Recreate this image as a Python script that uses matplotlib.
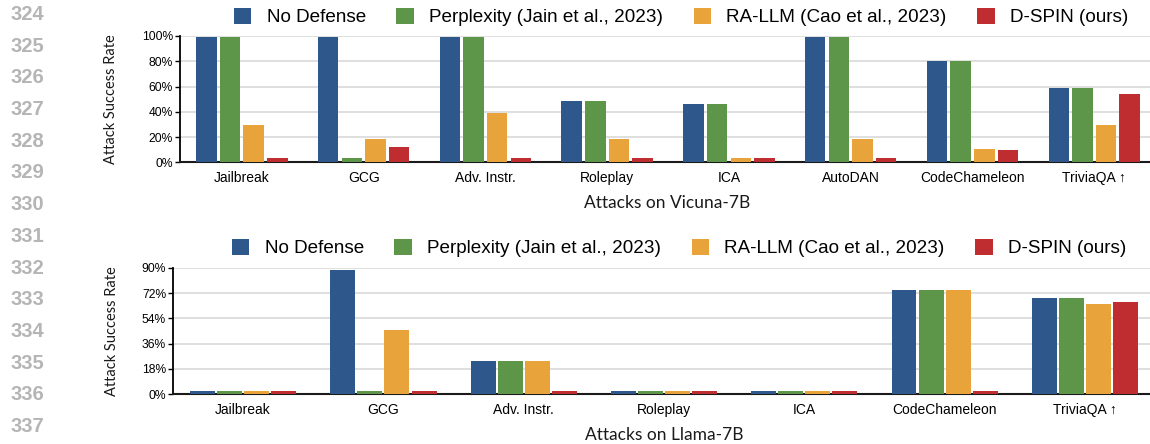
import matplotlib
matplotlib.use("Agg")
import matplotlib.pyplot as plt
from matplotlib.patches import Patch
import numpy as np

# ---- data -------------------------------------------------------------
series_names = ["No Defense", "Perplexity (Jain et al., 2023)",
                "RA-LLM (Cao et al., 2023)", "D-SPIN (ours)"]
series_colors = ["#2E588B", "#5D9648", "#E8A33B", "#BF2D30"]

vicuna_attacks = ["Jailbreak", "GCG", "Adv. Instr.", "Roleplay", "ICA",
                  "AutoDAN", "CodeChameleon", "TriviaQA \u2191"]
vicuna_no_defense = [99, 99, 99, 48.5, 46, 99, 80, 58.5]
vicuna_perplexity = [99, 3.2, 99, 48.5, 46, 99, 80, 58.5]
vicuna_ra_llm = [29.5, 18.5, 39, 18.5, 3.2, 18.5, 10.5, 29.5]
vicuna_dspin = [3.2, 12, 3.2, 3.2, 3.2, 3.2, 9.5, 54]
vicuna_yticks = [0, 20, 40, 60, 80, 100]

llama_attacks = ["Jailbreak", "GCG", "Adv. Instr.", "Roleplay", "ICA",
                 "CodeChameleon", "TriviaQA \u2191"]
llama_no_defense = [2.4, 88.5, 23.8, 2.4, 2.4, 74, 68.5]
llama_perplexity = [2.4, 2.4, 23.8, 2.4, 2.4, 74, 68.5]
llama_ra_llm = [2.4, 45.7, 23.8, 2.4, 2.4, 74, 64.2]
llama_dspin = [2.4, 2.4, 2.4, 2.4, 2.4, 2.4, 65.6]
llama_yticks = [0, 18, 36, 54, 72, 90]

line_numbers = list(range(324, 338))

# ---- figure -----------------------------------------------------------
W, H = 1150, 444
fig = plt.figure(figsize=(W / 100, H / 100), dpi=100)
SANS = ["Liberation Sans", "DejaVu Sans"]
LABEL_FONT = ["Lato", "DejaVu Sans"]


def px_rect(left, top, right, bottom):
    return [left / W, 1 - bottom / H, (right - left) / W, (bottom - top) / H]


def draw_panel(rect, cats, values, yticks, xlim, width, step, xlabel,
               xlabel_pos, ylabel_pos, legend_pos):
    ax = fig.add_axes(rect)
    x = np.arange(len(cats))
    for i, (vals, col) in enumerate(zip(values, series_colors)):
        ax.bar(x + (i - 1.5) * step, vals, width=width, color=col,
               zorder=3, linewidth=0)
    ax.set_xlim(*xlim)
    ax.set_ylim(0, yticks[-1])
    ax.set_yticks(yticks)
    ax.set_yticklabels([f"{t}%" for t in yticks], fontfamily=SANS,
                       fontsize=8.7)
    ax.set_xticks(x)
    ax.set_xticklabels(cats, fontfamily=SANS, fontsize=10)
    ax.tick_params(axis="y", direction="out", length=3.5, width=1,
                   pad=1.5, colors="black")
    ax.tick_params(axis="x", length=0, pad=6)
    ax.grid(axis="y", color="#d9d9d9", linewidth=1.2, zorder=0)
    ax.set_axisbelow(True)
    for s in ("top", "right"):
        ax.spines[s].set_visible(False)
    ax.spines["left"].set_linewidth(1.3)
    ax.spines["bottom"].set_linewidth(1.5)
    ax.spines["bottom"].set_color("#1a1a1a")

    fig.text(xlabel_pos[0] / W, 1 - xlabel_pos[1] / H, xlabel,
             ha="center", va="baseline", fontsize=12.5,
             fontfamily=LABEL_FONT, color="#1a1a1a")
    fig.text(ylabel_pos[0] / W, 1 - ylabel_pos[1] / H,
             "Attack Success Rate", rotation=90, ha="center", va="center",
             fontsize=10.5, fontfamily=LABEL_FONT, color="#1a1a1a")

    handles = [Patch(facecolor=c, edgecolor="none") for c in series_colors]
    fig.legend(handles, series_names, loc="center",
               bbox_to_anchor=(legend_pos[0] / W, 1 - legend_pos[1] / H),
               ncol=4, frameon=False, prop={"family": SANS, "size": 13.6},
               handlelength=0.93, handleheight=0.93, handletextpad=0.8,
               columnspacing=1.62, borderpad=0, borderaxespad=0)
    return ax


draw_panel(px_rect(180, 36, 1150, 162.3), vicuna_attacks,
           [vicuna_no_defense, vicuna_perplexity, vicuna_ra_llm, vicuna_dspin],
           vicuna_yticks, (-0.508, 7.458), 0.168, 0.194,
           "Attacks on Vicuna-7B", (667, 207.5), (111, 99), (681, 17))

draw_panel(px_rect(173, 267.7, 1150, 394.3), llama_attacks,
           [llama_no_defense, llama_perplexity, llama_ra_llm, llama_dspin],
           llama_yticks, (-0.5, 6.464), 0.178, 0.193,
           "Attacks on Llama-7B", (664, 439.5), (111.5, 331), (679, 248))

# margin line numbers
for i, n in enumerate(line_numbers):
    fig.text(10.5 / W, 1 - (20 + 31.7 * i) / H, str(n), ha="left",
             va="baseline", fontsize=14.5, fontweight="bold",
             fontfamily=SANS, color="#b5b5b5")

fig.savefig("out.png", dpi=100)
